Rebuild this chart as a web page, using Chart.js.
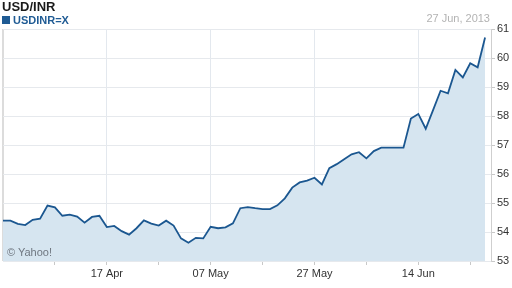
<!DOCTYPE html>
<html>
<head>
<meta charset="utf-8">
<script src="https://cdn.jsdelivr.net/npm/chart.js@4/dist/chart.umd.min.js"></script>
<style>
  html, body { margin:0; padding:0; background:#fff; }
  #wrap { position:relative; width:512px; height:288px; overflow:hidden; font-family:"Liberation Sans", Arial, sans-serif; }
  #c { position:absolute; left:0; top:0; }
  .t { position:absolute; white-space:nowrap; }
  #title { left:2px; top:-1px; font-size:13px; line-height:16px; font-weight:bold; color:#1a1a1a; }
  #leg { left:2px; top:14px; font-size:11px; line-height:13px; font-weight:bold; color:#1f5b94; }
  #leg span.sq { display:inline-block; width:8px; height:8px; background:#1f5b94; margin-right:3px; vertical-align:0px; }
  #date { right:22px; top:12px; font-size:11px; line-height:13px; color:#b3b3b3; }
  #yahoo { left:7px; top:246px; font-size:11px; line-height:13px; color:#6f7780; }
</style>
</head>
<body>
<div id="wrap">
  <canvas id="c" width="512" height="288"></canvas>
  <div class="t" id="title">USD/INR</div>
  <div class="t" id="leg"><span class="sq"></span>USDINR=X</div>
  <div class="t" id="date">27 Jun, 2013</div>
  <div class="t" id="yahoo">© Yahoo!</div>
</div>
<script>
// Trading days (categories)
const dates = [
  "28 Mar","29 Mar",
  "01 Apr","02 Apr","03 Apr","04 Apr","05 Apr",
  "08 Apr","09 Apr","10 Apr","11 Apr","12 Apr",
  "15 Apr","16 Apr","17 Apr","18 Apr","19 Apr",
  "22 Apr","23 Apr","24 Apr","25 Apr","26 Apr",
  "29 Apr","30 Apr","01 May","02 May","03 May",
  "06 May","07 May","08 May","09 May","10 May",
  "13 May","14 May","15 May","16 May","17 May",
  "20 May","21 May","22 May","23 May","24 May",
  "27 May","28 May","29 May","30 May","31 May",
  "03 Jun","04 Jun","05 Jun","06 Jun","07 Jun",
  "10 Jun","11 Jun","12 Jun","13 Jun","14 Jun",
  "17 Jun","18 Jun","19 Jun","20 Jun","21 Jun",
  "24 Jun","25 Jun","26 Jun","27 Jun"
];
// USD/INR close values
const usdinr = [
  54.39,54.39,54.28,54.24,54.42,54.46,54.91,54.85,54.56,54.60,
  54.53,54.32,54.52,54.56,54.17,54.21,54.03,53.91,54.13,54.40,
  54.29,54.22,54.39,54.22,53.78,53.63,53.80,53.78,54.18,54.13,
  54.16,54.30,54.82,54.86,54.82,54.79,54.79,54.92,55.16,55.53,
  55.71,55.77,55.87,55.64,56.20,56.34,56.51,56.68,56.75,56.54,
  56.79,56.91,56.91,56.91,56.91,57.91,58.07,57.56,58.21,58.87,
  58.78,59.59,59.33,59.82,59.68,60.71
];
// Axis ticks
const xTickIdx = [0,7,14,21,28,35,42,49,56,63];
const xLabelIdx = [14,28,42,56];
const yTicks = [53,54,55,56,57,58,59,60,61];

const points = usdinr.map((v,i)=>({x:i, y:v}));

new Chart(document.getElementById('c'), {
  type: 'line',
  data: {
    datasets: [{
      data: points,
      borderColor: '#1b5790',
      borderWidth: 1.8,
      backgroundColor: '#d6e5f0',
      fill: 'start',
      pointRadius: 0,
      tension: 0
    }]
  },
  options: {
    responsive: false,
    animation: false,
    events: [],
    layout: { padding: { top: 29, left: 3, right: 0, bottom: 0 } },
    plugins: { legend: { display:false }, title: { display:false }, tooltip: { enabled:false } },
    scales: {
      x: {
        type: 'linear',
        min: 0,
        max: 65.8,
        afterBuildTicks: ax => { ax.ticks = xTickIdx.map(v=>({value:v})); },
        afterFit: ax => { ax.height = 27; },
        border: { display: false },
        grid: {
          color: ctx => {
            const v = ctx.tick ? ctx.tick.value : null;
            if (v === 0) return '#dcdcdc';
            return xLabelIdx.includes(v) ? '#e3e8ee' : 'rgba(0,0,0,0)';
          },
          lineWidth: ctx => (ctx.tick && ctx.tick.value === 0) ? 2 : 1,
          tickColor: ctx => (ctx.tick && ctx.tick.value === 0) ? 'rgba(0,0,0,0)' : '#c8c8c8',
          tickLength: 4,
          drawTicks: true
        },
        ticks: {
          autoSkip: false,
          maxRotation: 0,
          padding: 2,
          color: '#333',
          font: { family: '"Liberation Sans", Arial, sans-serif', size: 11 },
          callback: v => xLabelIdx.includes(v) ? dates[v] : ''
        }
      },
      y: {
        position: 'right',
        min: 53,
        max: 61,
        afterBuildTicks: ax => { ax.ticks = yTicks.map(v=>({value:v})); },
        afterFit: ax => { ax.width = 21; },
        border: { display: true, color: '#cfcfcf' },
        grid: {
          color: '#e6e9ed',
          tickColor: '#c8c8c8',
          tickLength: 4
        },
        ticks: {
          padding: 2,
          color: '#333',
          font: { family: '"Liberation Sans", Arial, sans-serif', size: 11 }
        }
      }
    }
  }
});
</script>
</body>
</html>
